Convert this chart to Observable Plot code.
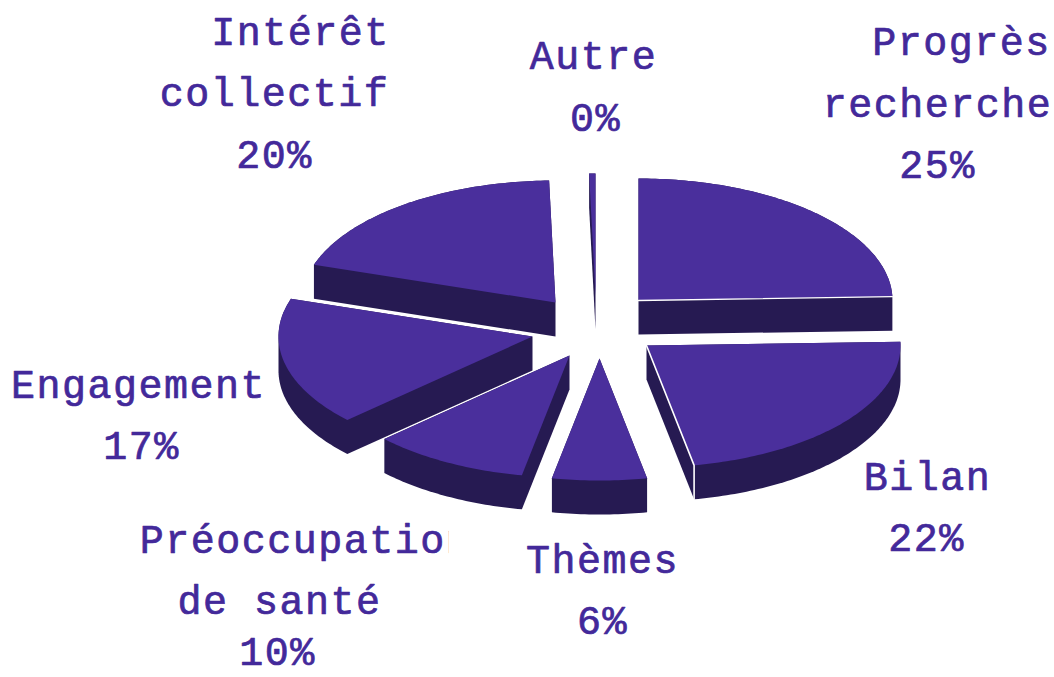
<!DOCTYPE html>
<html><head><meta charset="utf-8">
<script src="https://cdn.jsdelivr.net/npm/d3@7"></script>
<script src="https://cdn.jsdelivr.net/npm/@observablehq/plot@0.6"></script>
<style>html,body{margin:0;padding:0;background:#fff}svg{display:block}</style>
</head><body><div id="chart"></div>
<script>
// data, clockwise from twelve o'clock
const categories = ["Progrès recherche","Bilan","Thèmes","Préoccupation de santé","Engagement","Intérêt collectif","Autre"];
const shares     = [24.5,22.5,6,10,17,19.6,0.4];

// label text, one entry per printed line
const labelText = ["Intérêt","collectif","20%","Autre","0%","Progrès","recherche","25%","Engagement","17%","Bilan","22%","Thèmes","6%","Préoccupation","de santé","10%"];
const labelX    = [300,274,274,593,595,961,937,937,138,141,927,926,602,602,305,279,277];
const labelY    = [32,93,155,56,118,42,104,165,385,446,477,538,560,621,540,601,652];

// exploded-pie layout
const pullX = [43,51,4,-26,-63,-40,0];
const pullY = [-30,15,28,25,6,-28,-35];
const paintOrder = [0,5,6,1,2,3,4];
const cx = 595, cy = 330, rx = 254, ry = 122, depth = 34;
const topColor = "#4a2f9c", sideColor = "#261a52", textColor = "#43299a";

const arcs = d3.pie().sort(null)(shares);
const outline = i => {
  const {startAngle:a0, endAngle:a1} = arcs[i];
  const ox = cx + pullX[i], oy = cy + pullY[i];
  const n = Math.max(2, Math.ceil((a1 - a0) * 60));
  const pts = [{x:ox, y:oy}];
  for (let k = 0; k <= n; ++k) {
    const a = a0 + (a1 - a0) * k / n;
    pts.push({x: ox + rx * Math.sin(a), y: oy - ry * Math.cos(a)});
  }
  return pts;
};
const extruded = i => {
  const top = outline(i).map(p => [p.x, p.y]);
  const all = top.concat(top.map(([x, y]) => [x, y + depth]));
  return d3.polygonHull(all).map(([x, y]) => ({x, y}));
};

const marks = [];
for (const i of paintOrder) {
  marks.push(Plot.line(extruded(i), {x:"x", y:"y", fill:sideColor, stroke:"none"}));
  marks.push(Plot.line(outline(i), {x:"x", y:"y", fill:topColor, stroke:"none"}));
}
// light edges where the cut faces meet the top of the two right-hand slices
const p0 = outline(0), p1 = outline(1);
const tip0 = p0[p0.length - 1], tip1 = p1[p1.length - 1];
marks.push(Plot.line([p0[0], tip0], {x:"x", y:"y", stroke:"#fff", strokeWidth:1.4}));
marks.push(Plot.line([p1[0], tip1, {x:tip1.x, y:tip1.y + depth}], {x:"x", y:"y", stroke:"#fff", strokeWidth:1.6}));

const labels = labelText.map((t, i) => ({t, x:labelX[i], y:labelY[i]}));
marks.push(Plot.text(labels, {x:"x", y:"y", text:"t", fill:textColor, stroke:textColor, strokeWidth:0.7, textAnchor:"middle", lineAnchor:"middle",
  fontFamily:"Liberation Mono", fontSize:40, fontWeight:"normal"}));
// the source picture crops the last letter of the long label
marks.push(Plot.rect([{x1:449, x2:480, y1:515, y2:565}], {x1:"x1", x2:"x2", y1:"y1", y2:"y2", fill:"#fff"}));

const chart = Plot.plot({
  width:1054, height:677, margin:0,
  style:{background:"#fff", letterSpacing:"1.5px"},
  x:{domain:[0,1054], range:[0,1054], axis:null},
  y:{domain:[0,677], range:[0,677], axis:null},
  marks
});
document.getElementById("chart").append(chart);
</script></body></html>
